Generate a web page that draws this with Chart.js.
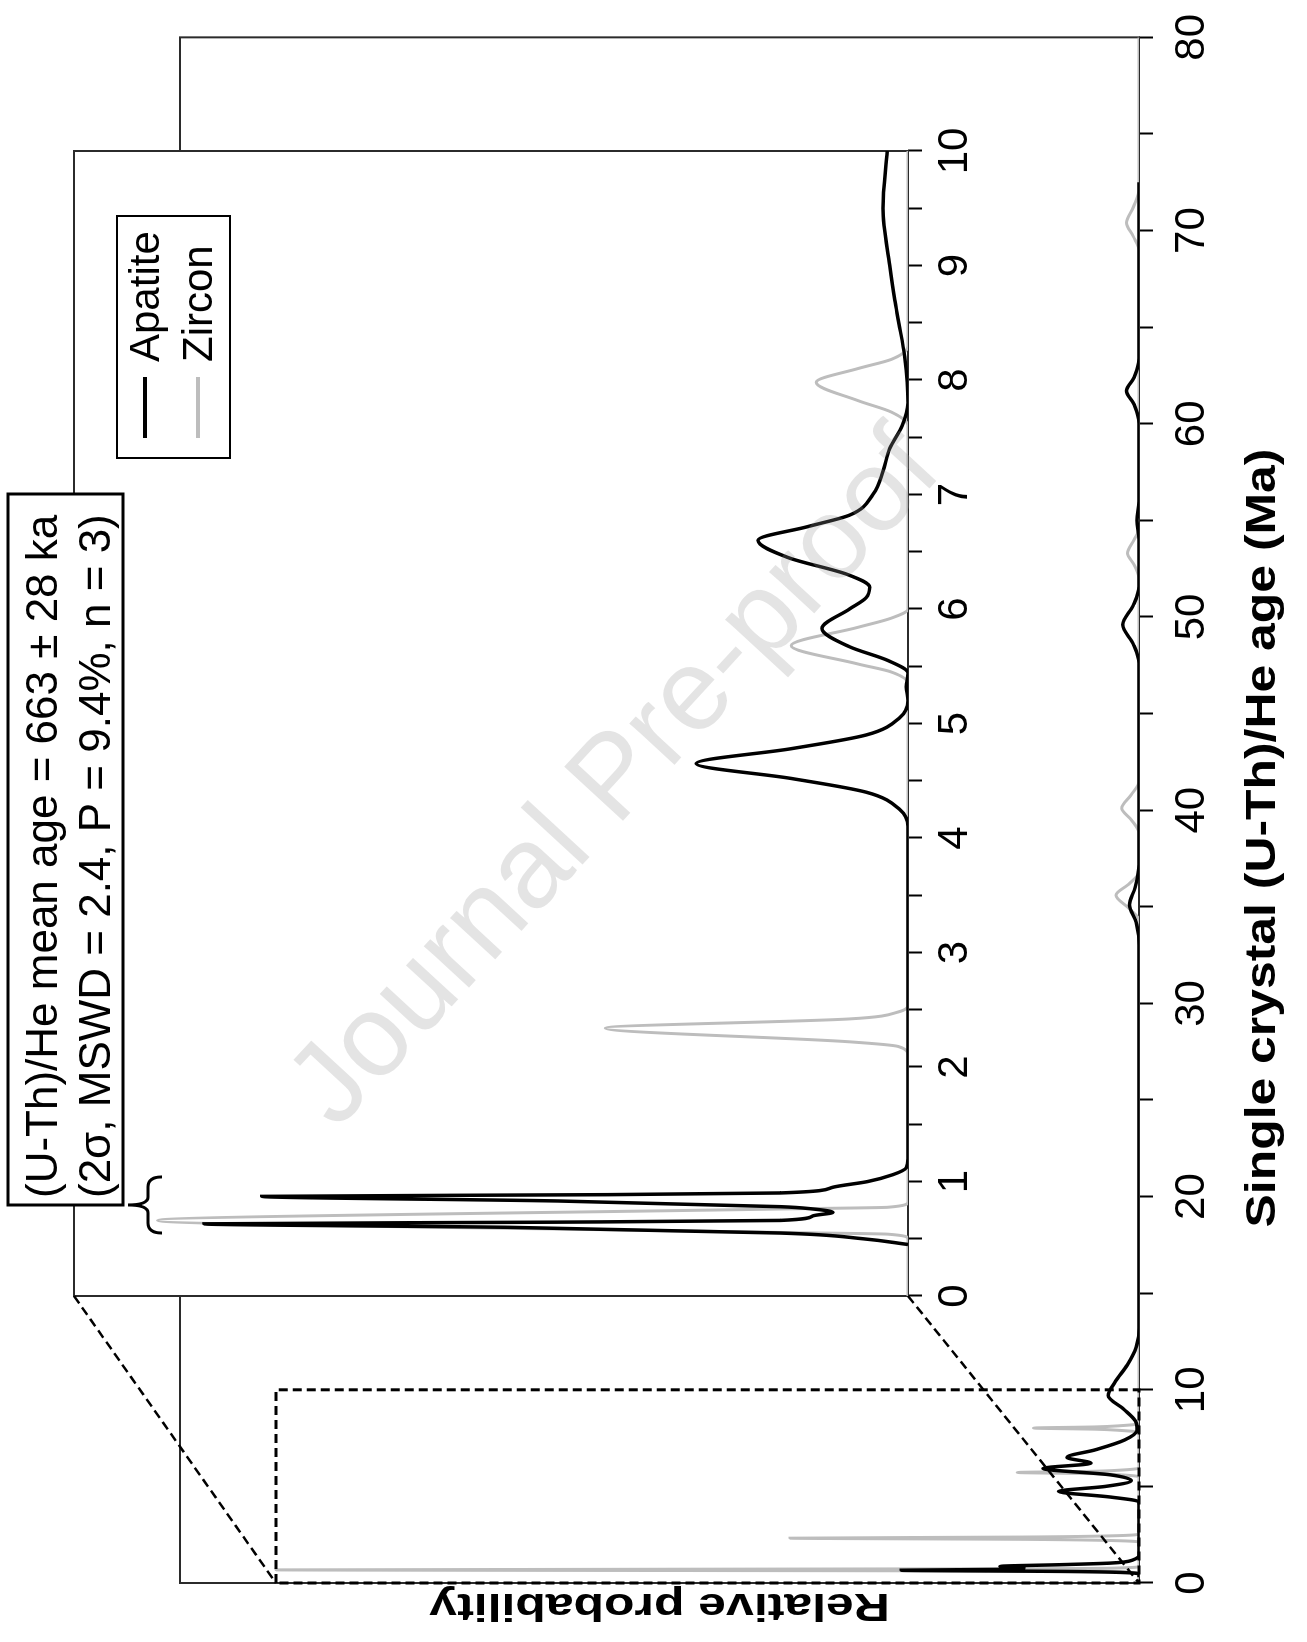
<!DOCTYPE html>
<html>
<head>
<meta charset="utf-8">
<script src="https://cdn.jsdelivr.net/npm/chart.js@4.4.1/dist/chart.umd.min.js"></script>
<style>
  html, body { margin: 0; padding: 0; background: #fff; overflow: hidden; }
  /* The figure is laid out landscape and turned a quarter turn counter-clockwise */
  #stage { position: absolute; left: 0; top: 0; width: 1642px; height: 1307px;
           transform-origin: 0 0; transform: translate(0, 1642px) rotate(-90deg); background: #fff; }
  #stage canvas { position: absolute; left: 0; top: 0; }
</style>
</head>
<body>
<div id="stage">
  <canvas id="main" width="1642" height="1307"></canvas>
  <canvas id="inset" width="1642" height="1307"></canvas>
</div>
<script>
// ---- Probability density curves, full age range (Ma) ----
const mainApatiteAge  = [0.3,0.45,0.55,0.6,0.66,0.71,0.78,0.86,0.95,1.03,1.2,1.5,
                         4.2,4.45,4.74,5.0,5.3,5.6,5.93,6.2,6.5,6.9,7.4,7.9,8.4,9.0,9.7,10.4,11.3,12.2,13.2,
                         33.0,34.2,35.1,36.0,37.2,
                         47.6,48.6,49.6,50.6,51.6,
                         54,55,56,
                         60.0,61.0,61.7,62.4,63.4,
                         72.5];
const mainApatiteProb = [0,0,0.02,0.08,0.248,0.13,0.12,0.145,0.08,0.03,0.006,0,
                         0,0.03,0.084,0.035,0.008,0.03,0.10,0.05,0.075,0.045,0.015,0.002,0.004,0.016,0.032,0.025,0.012,0.003,0,
                         0,0.003,0.01,0.004,0,
                         0,0.006,0.017,0.006,0,
                         0,0.002,0,
                         0,0.005,0.013,0.005,0,
                         0];

const mainZirconAge  = [0,0.5,0.58,0.62,0.68,0.74,0.78,0.86,
                        2.1,2.2,2.26,2.32,2.38,2.44,2.55,
                        5.5,5.6,5.66,5.72,5.78,5.84,5.95,
                        7.8,7.9,7.96,8.02,8.08,8.14,8.25,
                        34.3,34.9,35.6,36.2,36.8,
                        38.8,39.5,40.1,40.8,41.5,
                        52.0,52.7,53.3,54.0,54.6,
                        69.0,69.7,70.4,71.2,72.2,
                        80];
const mainZirconProb = [0,0,0.02,0.1,0.90,0.1,0.02,0,
                        0,0.03,0.12,0.364,0.12,0.03,0,
                        0,0.02,0.05,0.127,0.05,0.02,0,
                        0,0.02,0.045,0.11,0.045,0.02,0,
                        0,0.01,0.024,0.01,0,
                        0,0.008,0.018,0.008,0,
                        0,0.005,0.012,0.005,0,
                        0,0.006,0.013,0.006,0,
                        0];

// ---- Enlarged view, 0–10 Ma ----
const insetApatiteAge  = [0.45,0.5,0.55,0.6,0.63,0.645,0.66,0.7,0.73,0.76,0.78,0.83,0.87,0.885,0.9,0.95,1.0,1.06,1.12,1.2,
                          4.1,4.25,4.4,4.52,4.65,4.78,4.9,5.05,5.2,
                          5.32,5.44,5.55,5.67,5.83,6.0,6.1,6.19,6.3,6.45,6.6,6.72,6.82,7.0,7.2,7.4,7.6,7.8,
                          8.2,8.5,8.7,9.0,9.5,10];
const insetApatiteProb = [0,0.054,0.153,0.48,0.844,0.42,0.153,0.114,0.09,0.114,0.153,0.42,0.775,0.36,0.153,0.09,0.048,0.018,0.002,0,
                          0,0.01,0.05,0.14,0.254,0.14,0.05,0.01,0,
                          0.002,0,0.024,0.07,0.103,0.07,0.05,0.046,0.072,0.144,0.18,0.12,0.07,0.042,0.03,0.022,0.007,0,
                          0.004,0.011,0.016,0.022,0.03,0.025];

const insetZirconAge  = [0,0.5,0.54,0.555,0.66,0.76,0.775,0.82,
                         2.1,2.18,2.22,2.34,2.42,2.48,2.55,
                         5.35,5.45,5.52,5.68,5.84,5.92,6.0,
                         7.6,7.72,7.82,7.98,8.1,8.18,8.3,
                         10];
const insetZirconProb = [0,0,0.024,0.153,0.90,0.153,0.024,0,
                         0,0.012,0.07,0.363,0.07,0.012,0,
                         0,0.02,0.06,0.14,0.06,0.02,0,
                         0,0.02,0.06,0.11,0.06,0.02,0,
                         0];

// Window of the full plot shown enlarged
const zoomAge  = [0, 10];
const zoomProb = [0, 0.90];
// Ages spanned by the brace under the summary box
const braceAge = [0.55, 1.04];

const seriesNames = ['Apatite', 'Zircon'];
const summaryLines = ['(U-Th)/He mean age = 663 \u00b1 28 ka', '(2\u03c3, MSWD = 2.4, P = 9.4%, n = 3)'];
const xTitle = 'Single crystal (U-Th)/He age (Ma)';
const yTitle = 'Relative probability';
const watermark = 'Journal Pre-proof';

const apatiteColor = '#000000';
const zirconColor = '#bdbdbd';
const FONT = "'Liberation Sans', Arial, Helvetica, sans-serif";

Chart.defaults.font.family = FONT;
Chart.defaults.color = '#000';

const toPoints = (xs, ys) => xs.map((x, i) => ({ x, y: ys[i] }));

function lineSet(label, xs, ys, color, width) {
  return { label, data: toPoints(xs, ys), borderColor: color, backgroundColor: color,
           borderWidth: width, showLine: true, pointRadius: 0, fill: false,
           cubicInterpolationMode: 'monotone' };
}

function strokeFrame(chart) {
  const { ctx, chartArea: a } = chart;
  ctx.save();
  ctx.strokeStyle = '#2b2b2b';
  ctx.lineWidth = 2;
  ctx.strokeRect(a.left, a.top, a.right - a.left, a.bottom - a.top);
  ctx.restore();
}

// Bold axis title, drawn wide along its reading direction
function drawTitle(ctx, text, cx, cy, angle, size, stretch) {
  ctx.save();
  ctx.translate(cx, cy);
  ctx.rotate(angle);
  ctx.scale(stretch, 1);
  ctx.font = 'bold ' + size + 'px ' + FONT;
  ctx.textAlign = 'center';
  ctx.textBaseline = 'middle';
  ctx.fillStyle = '#000';
  ctx.fillText(text, 0, 0);
  ctx.restore();
}

const mainDecor = {
  id: 'mainDecor',
  beforeDatasetsDraw(chart) { strokeFrame(chart); },
  afterDatasetsDraw(chart) {
    const { ctx, scales: { x, y } } = chart;
    const x0 = x.getPixelForValue(zoomAge[0]), x1 = x.getPixelForValue(zoomAge[1]);
    const y0 = y.getPixelForValue(zoomProb[0]), y1 = y.getPixelForValue(zoomProb[1]);
    ctx.save();
    ctx.setLineDash([9, 5]);
    ctx.lineWidth = 3;
    ctx.strokeStyle = '#000';
    ctx.strokeRect(x0, y1, x1 - x0, y0 - y1);
    ctx.restore();
  },
  afterDraw(chart) {
    const { ctx, chartArea: a } = chart;
    drawTitle(ctx, xTitle, 804, 1263, 0, 43, 1.16);
    drawTitle(ctx, yTitle, 37, (a.top + a.bottom) / 2, -Math.PI / 2, 39, 1.28);
  }
};

const mainChart = new Chart(document.getElementById('main'), {
  type: 'scatter',
  data: { datasets: [
    lineSet(seriesNames[0], mainApatiteAge, mainApatiteProb, apatiteColor, 3.5),
    lineSet(seriesNames[1], mainZirconAge, mainZirconProb, zirconColor, 3)
  ] },
  options: {
    responsive: false, animation: false, devicePixelRatio: 1,
    layout: { padding: { top: 180, right: 32, left: 0, bottom: 0 } },
    plugins: { legend: { display: false }, tooltip: { enabled: false } },
    scales: {
      x: {
        type: 'linear', min: 0, max: 80, position: 'bottom',
        afterFit(s) { s.height = 168; },
        ticks: { stepSize: 5, autoSkip: false, maxRotation: 0, padding: 14,
                 font: { size: 42 }, color: '#000',
                 callback: v => (v % 10 === 0 ? String(v) : '') },
        grid: { drawOnChartArea: false, drawTicks: true, tickLength: 14, tickWidth: 2, tickColor: '#000' },
        border: { display: false },
        title: { display: false, text: xTitle }
      },
      y: {
        type: 'linear', min: 0, max: 1,
        afterFit(s) { s.width = 59; },
        ticks: { display: false },
        grid: { display: false },
        border: { display: false },
        title: { display: false, text: yTitle }
      }
    }
  },
  plugins: [mainDecor]
});

const insetDecor = {
  id: 'insetDecor',
  beforeDraw(chart) {
    const { ctx, chartArea: a } = chart;
    ctx.save();
    ctx.fillStyle = '#fff';
    ctx.fillRect(a.left, a.top, a.right - a.left, a.bottom - a.top);
    ctx.restore();
  },
  beforeDatasetsDraw(chart) { strokeFrame(chart); },
  afterDraw(chart) {
    const { ctx, chartArea: a, scales: { x } } = chart;
    const mx = mainChart.scales.x, my = mainChart.scales.y;

    // dashed leaders from the enlarged panel to the window on the full plot
    ctx.save();
    ctx.setLineDash([9, 5]);
    ctx.lineWidth = 2.5;
    ctx.strokeStyle = '#000';
    ctx.beginPath();
    ctx.moveTo(a.left, a.top);
    ctx.lineTo(mx.getPixelForValue(zoomAge[0]), my.getPixelForValue(zoomProb[1]));
    ctx.moveTo(a.left, a.bottom);
    ctx.lineTo(mx.getPixelForValue(zoomAge[0]), my.getPixelForValue(zoomProb[0]));
    ctx.stroke();
    ctx.restore();

    // legend
    ctx.save();
    ctx.fillStyle = '#fff';
    ctx.fillRect(1184, 117, 242, 113);
    ctx.lineWidth = 2;
    ctx.strokeStyle = '#000';
    ctx.strokeRect(1184, 117, 242, 113);
    const rows = [145, 198];
    chart.data.datasets.forEach((ds, i) => {
      ctx.strokeStyle = ds.borderColor;
      ctx.lineWidth = 4;
      ctx.beginPath();
      ctx.moveTo(1204, rows[i]);
      ctx.lineTo(1265, rows[i]);
      ctx.stroke();
      ctx.fillStyle = '#000';
      ctx.font = '42px ' + FONT;
      ctx.textBaseline = 'alphabetic';
      ctx.textAlign = 'left';
      ctx.fillText(ds.label, 1280, rows[i] + 14);
    });
    ctx.restore();

    // summary box
    ctx.save();
    ctx.fillStyle = '#fff';
    ctx.fillRect(437, 8, 711, 115);
    ctx.lineWidth = 3;
    ctx.strokeStyle = '#000';
    ctx.strokeRect(437, 8, 711, 115);
    ctx.fillStyle = '#000';
    ctx.font = '44px ' + FONT;
    ctx.textBaseline = 'alphabetic';
    ctx.textAlign = 'left';
    ctx.fillText(summaryLines[0], 444, 57);
    ctx.fillText(summaryLines[1], 444, 110);
    ctx.restore();

    // brace tying the summary to the youngest apatite grains
    const xa = x.getPixelForValue(braceAge[0]), xb = x.getPixelForValue(braceAge[1]);
    const xm = (xa + xb) / 2, yTip = 128, yMid = 148, yEnd = 162;
    ctx.save();
    ctx.lineWidth = 3;
    ctx.strokeStyle = '#000';
    ctx.beginPath();
    ctx.moveTo(xa, yEnd);
    ctx.quadraticCurveTo(xa, yMid, xa + 10, yMid);
    ctx.lineTo(xm - 8, yMid);
    ctx.quadraticCurveTo(xm, yMid, xm, yTip);
    ctx.quadraticCurveTo(xm, yMid, xm + 8, yMid);
    ctx.lineTo(xb - 10, yMid);
    ctx.quadraticCurveTo(xb, yMid, xb, yEnd);
    ctx.stroke();
    ctx.restore();

    // watermark
    ctx.save();
    ctx.translate(862, 617);
    ctx.rotate(42.7 * Math.PI / 180);
    ctx.font = '116px ' + FONT;
    ctx.textAlign = 'center';
    ctx.textBaseline = 'middle';
    ctx.fillStyle = 'rgba(150,150,150,0.26)';
    ctx.fillText(watermark, 0, 0);
    ctx.restore();
  }
};

const insetChart = new Chart(document.getElementById('inset'), {
  type: 'scatter',
  data: { datasets: [
    lineSet(seriesNames[0], insetApatiteAge, insetApatiteProb, apatiteColor, 3.5),
    lineSet(seriesNames[1], insetZirconAge, insetZirconProb, zirconColor, 3)
  ] },
  options: {
    responsive: false, animation: false, devicePixelRatio: 1,
    layout: { padding: { top: 74, right: 151, left: 346, bottom: 0 } },
    plugins: { legend: { display: false }, tooltip: { enabled: false } },
    scales: {
      x: {
        type: 'linear', min: 0, max: 10, position: 'bottom',
        afterFit(s) { s.height = 399; },
        ticks: { stepSize: 0.5, autoSkip: false, maxRotation: 0, padding: 8,
                 font: { size: 42 }, color: '#000',
                 callback: v => (Number.isInteger(v) ? String(v) : '') },
        grid: { drawOnChartArea: false, drawTicks: true, tickLength: 14, tickWidth: 2, tickColor: '#000' },
        border: { display: false }
      },
      y: { type: 'linear', min: 0, max: 1, display: false }
    }
  },
  plugins: [insetDecor]
});
</script>
</body>
</html>
